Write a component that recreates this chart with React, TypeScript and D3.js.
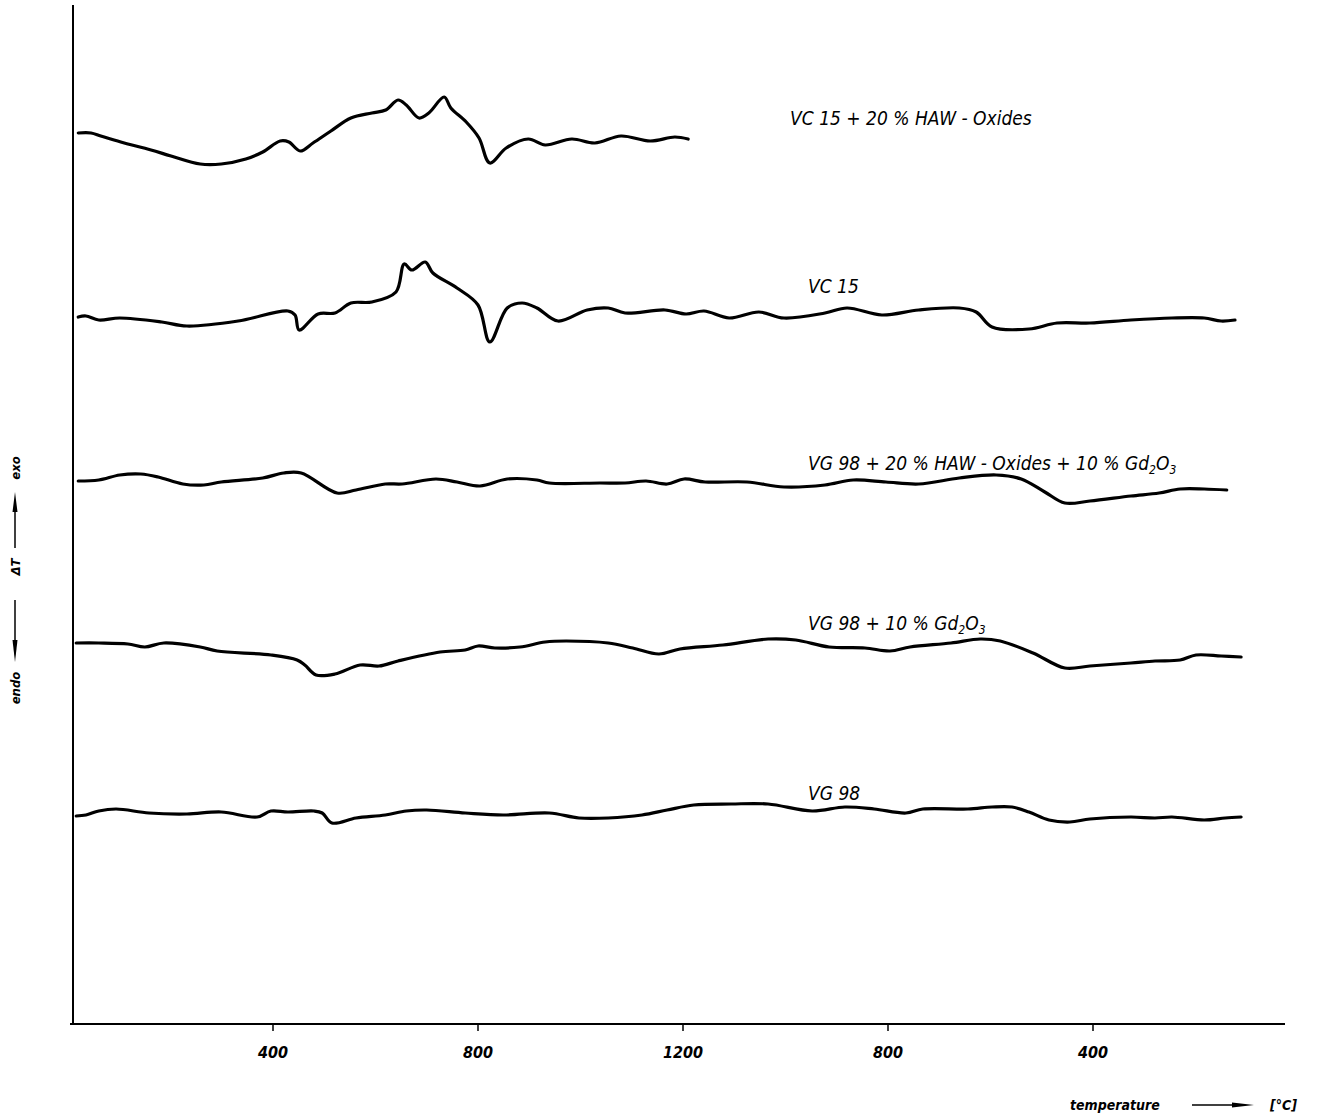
import React from 'react';
import * as d3 from 'd3';

// run position: 0..1200 = heating, 1200..2400 = cooling back down (°C)
const runTicks = [400, 800, 1200, 1600, 2000];
const tickLabels = ['400', '800', '1200', '800', '400'];

// [run position, ΔT (arbitrary units, exo up)]
const vc15Haw: [number, number][] = [
  [20, 0], [45, 0], [64, -3], [103, -9], [162, -17], [201, -23], [258, -31], [299, -31],
  [347, -26], [380, -19], [414, -8], [431, -9], [453, -18], [478, -10], [513, 2], [552, 15],
  [593, 20], [620, 23], [644, 33], [660, 28], [685, 15], [704, 20], [734, 36], [747, 25],
  [777, 11], [802, -5], [823, -30], [855, -15], [898, -6], [931, -12], [983, -6], [1028, -10],
  [1079, -3], [1136, -8], [1184, -4], [1210, -6],
];

const vc15: [number, number][] = [
  [20, 0], [35, 1], [60, -3], [101, -1], [183, -5], [232, -9], [332, -4], [429, 6], [443, 2],
  [451, -13], [488, 3], [521, 4], [552, 14], [593, 15], [640, 25], [656, 53], [671, 47],
  [697, 55], [712, 44], [759, 29], [800, 12], [823, -25], [857, 9], [886, 14], [915, 9],
  [956, -4], [1013, 7], [1054, 9], [1087, 4], [1165, 7], [1206, 3], [1241, 6], [1290, -1],
  [1348, 5], [1397, -1], [1477, 4], [1520, 9], [1588, 2], [1660, 7], [1739, 9], [1772, 5],
  [1803, -10], [1875, -12], [1930, -6], [1994, -6], [2074, -3], [2154, -1], [2217, -1],
  [2250, -4], [2277, -3],
];

const vg98HawGd: [number, number][] = [
  [20, 0], [60, 1], [101, 6], [142, 7], [176, 4], [224, -3], [265, -4], [299, -1], [380, 3],
  [421, 8], [455, 8], [525, -12], [562, -9], [619, -3], [652, -3], [718, 2], [759, -1],
  [804, -5], [857, 2], [915, 1], [939, -2], [1038, -2], [1087, -2], [1128, 0], [1169, -3],
  [1202, 2], [1243, -1], [1325, -1], [1397, -6], [1477, -4], [1532, 1], [1596, -1], [1660, -3],
  [1739, 3], [1811, 6], [1860, 2], [1906, -11], [1945, -22], [1994, -20], [2074, -15],
  [2129, -12], [2170, -8], [2217, -8], [2261, -9],
];

const vg98Gd: [number, number][] = [
  [16, 0], [60, 0], [117, -1], [150, -4], [187, 0], [258, -4], [291, -8], [396, -12],
  [447, -17], [462, -22], [484, -32], [521, -31], [570, -22], [607, -23], [644, -18],
  [726, -9], [775, -7], [800, -3], [833, -5], [882, -4], [931, 1], [972, 2], [1054, 0],
  [1102, -5], [1153, -11], [1194, -6], [1278, -2], [1366, 4], [1420, 3], [1485, -4],
  [1555, -5], [1604, -8], [1643, -4], [1723, 0], [1780, 4], [1819, 2], [1883, -10],
  [1945, -25], [1994, -23], [2074, -20], [2121, -18], [2170, -17], [2201, -12], [2250, -13],
  [2289, -14],
];

const vg98: [number, number][] = [
  [16, 0], [35, 1], [60, 5], [94, 7], [158, 3], [232, 2], [299, 4], [369, -1], [396, 5],
  [429, 4], [480, 5], [496, 3], [515, -7], [562, -2], [619, 1], [660, 5], [700, 6], [775, 3],
  [849, 1], [939, 3], [997, -2], [1054, -2], [1120, 1], [1169, 6], [1221, 11], [1294, 12],
  [1366, 12], [1452, 5], [1516, 9], [1573, 7], [1635, 3], [1668, 7], [1756, 7], [1803, 9],
  [1842, 9], [1875, 4], [1914, -4], [1955, -6], [1994, -3], [2074, -1], [2121, -2],
  [2154, -1], [2217, -4], [2258, -2], [2289, -1],
];

const seriesData = [vc15Haw, vc15, vg98HawGd, vg98Gd, vg98];
const seriesOffsets = [891, 707, 543, 381, 208];
const labelRuns = [1409, 1444, 1444, 1444, 1444];
const labelLift = [8, 24, 11, 13, 16];
// label parts: [text, isSubscript]
const seriesLabels: [string, boolean][][] = [
  [['VC 15 + 20 % HAW - Oxides', false]],
  [['VC 15', false]],
  [['VG 98 + 20 % HAW - Oxides + 10 % Gd', false], ['2', true], ['O', false], ['3', true]],
  [['VG 98 + 10 %  Gd', false], ['2', true], ['O', false], ['3', true]],
  [['VG 98', false]],
];

const W = 1323;
const H = 1117;
const font = '"DejaVu Sans Condensed", "DejaVu Sans", sans-serif';

export default function App() {
  const x = d3.scaleLinear().domain([0, 2400]).range([68, 1298]);
  const y = d3.scaleLinear().domain([0, 1019]).range([1024, 5]);

  const axisY = y(0);
  const axisX = 73;

  const lines = seriesData.map((pts, i) =>
    d3.line<[number, number]>()
      .x(d => x(d[0]))
      .y(d => y(seriesOffsets[i] + d[1]))
      .curve(d3.curveCatmullRom.alpha(0.5))(pts)
  );

  return (
    <svg width={W} height={H} style={{ position: 'absolute', left: 0, top: 0, background: '#fff' }}>
      {/* axes */}
      <line x1={axisX} y1={5} x2={axisX} y2={axisY} stroke="#000" strokeWidth={2} />
      <line x1={70} y1={axisY} x2={1285} y2={axisY} stroke="#000" strokeWidth={2} />
      {runTicks.map((t, i) => (
        <g key={t} transform={`translate(${x(t)},${axisY})`}>
          <line y1={0} y2={7} stroke="#000" strokeWidth={1.5} />
          <text y={34} textAnchor="middle" fontFamily={font} fontStyle="italic"
            fontWeight="bold" fontSize={16}>{tickLabels[i]}</text>
        </g>
      ))}

      {/* curves */}
      {lines.map((d, i) => (
        <path key={i} d={d || ''} fill="none" stroke="#000" strokeWidth={3.2}
          strokeLinejoin="round" strokeLinecap="round" />
      ))}

      {/* curve labels */}
      {seriesLabels.map((parts, i) => (
        <text key={i} x={x(labelRuns[i])} y={y(seriesOffsets[i] + labelLift[i])}
          fontFamily={font} fontStyle="italic" fontSize={19}>
          {parts.map(([s, sub], j) => (
            <tspan key={j} fontSize={sub ? 12 : 19} dy={sub ? 4 : (j > 0 ? -4 : 0)}>{s}</tspan>
          ))}
        </text>
      ))}

      {/* x title */}
      <text x={1070} y={1110} fontFamily={font} fontStyle="italic" fontWeight="bold" fontSize={14}>temperature</text>
      <line x1={1192} y1={1105} x2={1236} y2={1105} stroke="#000" strokeWidth={1.5} />
      <path d="M1232,1102.5 L1254,1105 L1232,1107.5 Z" fill="#000" />
      <text x={1270} y={1110} fontFamily={font} fontStyle="italic" fontWeight="bold" fontSize={14}>[°C]</text>

      {/* y title */}
      <g fontFamily={font} fontStyle="italic" fontWeight="bold" fontSize={13}>
        <text transform="translate(20,468) rotate(-90)" textAnchor="middle">exo</text>
        <text transform="translate(20,567) rotate(-90)" textAnchor="middle">ΔT</text>
        <text transform="translate(20,688) rotate(-90)" textAnchor="middle">endo</text>
      </g>
      <line x1={15} y1={510} x2={15} y2={548} stroke="#000" strokeWidth={1.5} />
      <path d="M12.5,512 L15,492 L17.5,512 Z" fill="#000" />
      <line x1={15} y1={600} x2={15} y2={642} stroke="#000" strokeWidth={1.5} />
      <path d="M12.5,640 L15,662 L17.5,640 Z" fill="#000" />
    </svg>
  );
}
